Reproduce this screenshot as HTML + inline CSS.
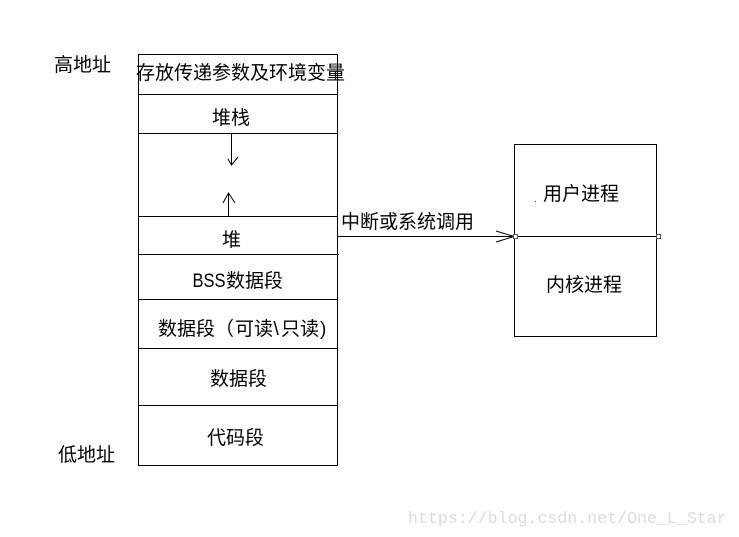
<!DOCTYPE html>
<html>
<head>
<meta charset="utf-8">
<style>
html,body{margin:0;padding:0;background:#fff;width:739px;height:537px;overflow:hidden}
svg{display:block}
text{font-family:"Liberation Sans","WenQuanYi Zen Hei","Noto Sans CJK SC",sans-serif;font-size:19px;fill:#000}
</style>
</head>
<body>
<svg width="739" height="537" viewBox="0 0 739 537" xmlns="http://www.w3.org/2000/svg">
<rect width="739" height="537" fill="#fff"/>
<g fill="none" stroke="#000" stroke-width="1" shape-rendering="crispEdges">
<rect x="138.5" y="54.5" width="199" height="411"/>
<path d="M138 94.500H338M138 133.500H338M138 216.500H338M138 254.500H339M138 299.500H338M138 348.500H338M138 405.500H338"/>
<rect x="514.500" y="144.500" width="142" height="192"/>
<path d="M338 236.500H656"/>
<path d="M231.500 134V164M228.500 193V216"/>
</g>
<g fill="none" stroke="#000" stroke-width="1">
<path d="M228 159L231.500 165L238 157"/>
<path d="M223 203L228.500 193L235 203"/>
<path d="M496 231L514 236.500L496 242"/>
</g>
<g fill="#fff" stroke="#555" stroke-width="1" shape-rendering="crispEdges">
<rect x="513.500" y="234.500" width="4" height="4"/>
<rect x="656.500" y="234.500" width="4" height="4"/>
</g>
<rect x="535" y="201" width="1" height="1" fill="#333"/>
<text x="54" y="71">高地址</text>
<text x="58" y="461">低地址</text>
<text x="136" y="79">存放传递参数及环境变量</text>
<text x="212" y="124">堆栈</text>
<text x="222" y="246">堆</text>
<text x="192.500" y="287" textLength="33" lengthAdjust="spacingAndGlyphs">BSS</text>
<text x="226" y="287">数据段</text>
<text x="158" y="335">数据段（</text>
<text x="235" y="335">可读</text>
<text x="273.500" y="335">\</text>
<text x="281" y="335">只读</text>
<text x="320" y="335">)</text>
<text x="210" y="385">数据段</text>
<text x="207" y="444">代码段</text>
<text x="341" y="228">中断或系统调用</text>
<text x="543" y="200">用户进程</text>
<text x="546" y="291">内核进程</text>
<text x="408" y="523" style="font-family:'Liberation Mono',monospace;font-size:16.600px;fill:#dcdcd6">https://blog.csdn.net/One_L_Star</text>
</svg>
</body>
</html>
